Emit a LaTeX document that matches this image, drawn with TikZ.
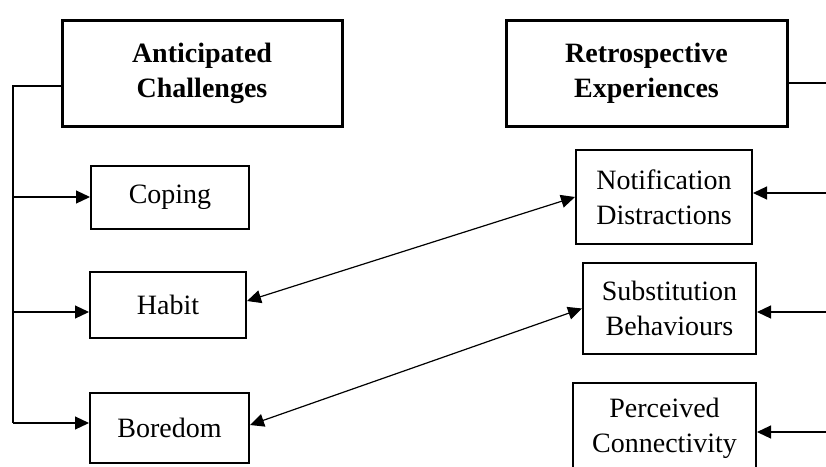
\documentclass[tikz,border=0pt]{standalone}
\usepackage{fontspec}
\setmainfont{Liberation Serif}
\usetikzlibrary{arrows.meta}
\begin{document}
\begin{tikzpicture}[x=1pt,y=-1pt,
  titlebox/.style={draw,line width=3pt,align=center,inner sep=0pt,font=\fontsize{28}{35}\selectfont\bfseries},
  itembox/.style={draw,line width=2pt,align=center,inner sep=0pt,font=\fontsize{28}{35}\selectfont},
  conn/.style={line width=1.2pt},
  arr/.style={conn,-{Triangle[length=14pt,width=13pt]}},
  darr/.style={conn,{Triangle[length=14pt,width=13pt]}-{Triangle[length=14pt,width=13pt]}}]
\useasboundingbox (0,0) rectangle (826,466);
\clip (0,0) rectangle (826,466);
% title boxes
\node[titlebox,minimum width=280pt,minimum height=106pt] (ant) at (202,73) {Anticipated\\Challenges};
\node[titlebox,minimum width=281pt,minimum height=106pt] (ret) at (646.5,73) {Retrospective\\Experiences};
% left items
\node[itembox,minimum width=158pt,minimum height=63pt] (coping) at (170,197) {Coping};
\node[itembox,minimum width=156pt,minimum height=66pt] (habit) at (168,305) {Habit};
\node[itembox,minimum width=159pt,minimum height=70pt] (boredom) at (169.5,428) {Boredom};
% right items
\node[itembox,minimum width=176pt,minimum height=94pt] (notif) at (664,197) {Notification\\Distractions};
\node[itembox,minimum width=173pt,minimum height=91pt] (subst) at (669.5,308.5) {Substitution\\Behaviours};
\node[itembox,minimum width=183pt,minimum height=90pt] (perc) at (664.5,428) {Perceived\\Connectivity};
% left tree
\coordinate (aw) at ([yshift=-13pt]ant.west);
\coordinate (lt) at (13,86);
\coordinate (hw) at ([yshift=-7pt]habit.west);
\coordinate (bw) at ([yshift=5pt]boredom.west);
\draw[conn] (aw) -- (lt |- aw) -- (lt |- bw);
\draw[arr] (lt |- coping.west) -- (coping.west);
\draw[arr] (lt |- hw) -- (hw);
\draw[arr] (lt |- bw) -- (bw);
% right tree
\coordinate (rx) at (840,0);
\coordinate (re) at ([yshift=-10pt]ret.east);
\coordinate (ne) at ([yshift=4pt]notif.east);
\coordinate (se) at ([yshift=-3.5pt]subst.east);
\coordinate (pe) at ([yshift=-4pt]perc.east);
\draw[conn] (re) -- (rx |- re);
\draw[arr] (rx |- ne) -- (ne);
\draw[arr] (rx |- se) -- (se);
\draw[arr] (rx |- pe) -- (pe);
% cross links
\draw[darr] ([yshift=4pt]habit.east) -- (notif.west);
\draw[darr] ([yshift=3pt]boredom.east) -- (subst.west);
\end{tikzpicture}
\end{document}
